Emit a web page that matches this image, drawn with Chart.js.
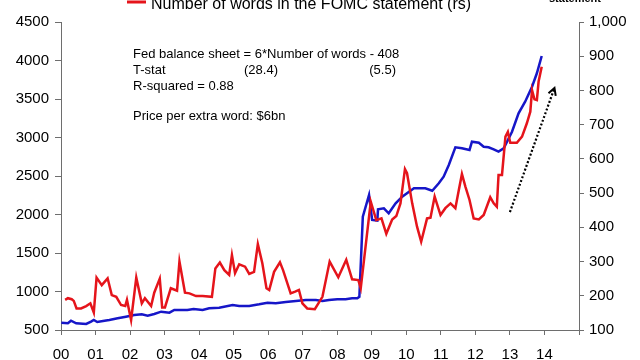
<!DOCTYPE html>
<html>
<head>
<meta charset="utf-8">
<script src="https://cdn.jsdelivr.net/npm/chart.js@4.4.1/dist/chart.umd.min.js"></script>
<style>
  html, body { margin: 0; padding: 0; background: #fff; }
  #wrap { width: 640px; height: 360px; overflow: hidden; }
</style>
</head>
<body>
<div id="wrap"><canvas id="fomcChart" width="640" height="360"></canvas></div>
<script>
// Number of words in the FOMC statement (right scale)
var wordsYears = [2000.12, 2000.20, 2000.31, 2000.37, 2000.45, 2000.58, 2000.73, 2000.85, 2000.95,
  2001.03, 2001.18, 2001.35, 2001.47, 2001.60, 2001.74, 2001.86, 2001.91,
  2002.03, 2002.18, 2002.34, 2002.43, 2002.61, 2002.70, 2002.86, 2002.93,
  2003.01, 2003.18, 2003.36, 2003.43, 2003.59, 2003.72, 2003.91,
  2004.10, 2004.37, 2004.47, 2004.60, 2004.73, 2004.87, 2004.95,
  2005.04, 2005.16, 2005.33, 2005.45, 2005.59, 2005.70, 2005.83, 2005.95,
  2006.03, 2006.17, 2006.34, 2006.43, 2006.65, 2006.78, 2006.89, 2006.99,
  2007.13, 2007.35, 2007.57, 2007.78,
  2008.03, 2008.26, 2008.43, 2008.61, 2008.68, 2008.97,
  2009.13, 2009.28, 2009.42, 2009.59, 2009.71, 2009.83, 2009.96,
  2010.02, 2010.17, 2010.31, 2010.43, 2010.60, 2010.70, 2010.82, 2010.99,
  2011.13, 2011.28, 2011.42, 2011.52, 2011.61, 2011.71, 2011.83, 2011.95,
  2012.10, 2012.24, 2012.43, 2012.53, 2012.62, 2012.67, 2012.77, 2012.87, 2012.94,
  2013.01, 2013.20, 2013.35, 2013.49, 2013.59, 2013.64, 2013.71, 2013.78, 2013.83, 2013.92];
var wordsCount = [188, 193, 190, 185, 163, 163, 170, 178, 151,
  253, 231, 251, 202, 197, 173, 170, 188,
  129, 253, 178, 193, 170, 209, 250, 166,
  166, 222, 215, 300, 209, 207, 199,
  199, 197, 280, 297, 275, 261, 319,
  266, 292, 285, 264, 270, 351, 295, 222,
  217, 270, 298, 275, 207, 212, 217, 178,
  163, 161, 197, 300,
  254, 305, 248, 246, 222, 475,
  421, 426, 381, 423, 433, 470, 570,
  558, 470, 402, 358, 426, 428, 490, 436,
  456, 470, 456, 509, 556, 519, 480, 426,
  423, 436, 488, 470, 460, 553, 553, 665, 679,
  647, 647, 665, 704, 738, 801, 774, 772, 826, 869];

// Fed balance sheet, $bn (left scale)
var balanceYears = [2000.01, 2000.20, 2000.29, 2000.44, 2000.73, 2000.87, 2000.95,
  2001.05, 2001.26, 2001.40, 2001.64, 2001.88,
  2002.12, 2002.34, 2002.51, 2002.70, 2002.90,
  2003.14, 2003.28, 2003.66, 2003.84,
  2004.10, 2004.29, 2004.58, 2004.97,
  2005.16, 2005.45, 2005.74, 2005.98,
  2006.22, 2006.51, 2006.80,
  2007.09, 2007.38, 2007.57, 2007.76,
  2008.00, 2008.24, 2008.43, 2008.58, 2008.64, 2008.74, 2008.92,
  2009.01, 2009.16, 2009.18, 2009.35, 2009.49, 2009.69, 2009.88,
  2010.22, 2010.55, 2010.75, 2010.94,
  2011.08, 2011.23, 2011.42, 2011.61, 2011.83, 2011.90,
  2012.10, 2012.24, 2012.38, 2012.53, 2012.67, 2012.82,
  2013.06, 2013.25, 2013.44, 2013.64, 2013.78, 2013.92];
var balanceBn = [595, 587, 621, 587, 578, 608, 630,
  604, 621, 630, 652, 673,
  695, 704, 686, 708, 738,
  725, 760, 760, 773,
  760, 782, 790, 825,
  812, 812, 834, 855,
  847, 864, 877,
  890, 890, 877, 890,
  899, 899, 912, 912, 932, 1971, 2253,
  1929, 1920, 2068, 2081, 2016, 2145, 2231,
  2340, 2340, 2309, 2405,
  2491, 2643, 2873, 2860, 2838, 2945,
  2932, 2880, 2873, 2847, 2816, 2860,
  3075, 3314, 3465, 3660, 3834, 4058];

// dotted trend arrow (left scale)
var arrowYears = [2013.0, 2014.29];
var arrowLevels = [2032, 3643];

var xTickLabels = ['00', '01', '02', '03', '04', '05', '06', '07', '08', '09', '10', '11', '12', '13', '14'];
var leftTicks = [500, 1000, 1500, 2000, 2500, 3000, 3500, 4000, 4500];
var rightTicks = [100, 200, 300, 400, 500, 600, 700, 800, 900, 1000];

var notes = [
  'Fed balance sheet = 6*Number of words - 408',
  'T-stat',
  'R-squared = 0.88',
  'Price per extra word: $6bn'
];
var tstats = ['(28.4)', '(5.5)'];

var FONT = "'Liberation Sans', Arial, sans-serif";
var RED = '#e5141b';
var BLUE = '#1616c8';
var AXIS = '#6e6e6e';

function toPoints(xs, ys) {
  return xs.map(function (x, i) { return { x: x, y: ys[i] }; });
}

var annotations = {
  id: 'annotations',
  afterDatasetsDraw: function (chart) {
    var ctx = chart.ctx;
    // arrow head
    var meta = chart.getDatasetMeta(2);
    var p0 = meta.data[0], p1 = meta.data[1];
    var ang = Math.atan2(p1.y - p0.y, p1.x - p0.x);
    ctx.save();
    ctx.strokeStyle = '#000';
    ctx.lineWidth = 2;
    ctx.beginPath();
    ctx.moveTo(p1.x - 8 * Math.cos(ang - 0.5), p1.y - 8 * Math.sin(ang - 0.5));
    ctx.lineTo(p1.x, p1.y);
    ctx.lineTo(p1.x - 8 * Math.cos(ang + 0.5), p1.y - 8 * Math.sin(ang + 0.5));
    ctx.stroke();
    ctx.restore();
  },
  afterDraw: function (chart) {
    var ctx = chart.ctx;
    ctx.save();
    ctx.fillStyle = '#000';
    ctx.font = '13px ' + FONT;
    ctx.textBaseline = 'middle';
    ctx.textAlign = 'left';
    ctx.fillText(notes[0], 133, 54);
    ctx.fillText(notes[1], 133, 70);
    ctx.fillText(tstats[0], 244, 70);
    ctx.textAlign = 'right';
    ctx.fillText(tstats[1], 396, 70);
    ctx.textAlign = 'left';
    ctx.fillText(notes[2], 133, 86);
    ctx.fillText(notes[3], 133, 116);

    // legend, cut off at the top edge as in the source
    ctx.strokeStyle = RED;
    ctx.lineWidth = 3;
    ctx.beginPath();
    ctx.moveTo(127, 2);
    ctx.lineTo(146, 2);
    ctx.stroke();
    ctx.font = '16px ' + FONT;
    ctx.textBaseline = 'alphabetic';
    ctx.fillText('Number of words in the FOMC statement (rs)', 151, 9);
    ctx.font = 'bold 11px ' + FONT;
    ctx.fillText('statement', 549, 2);
    ctx.restore();
  }
};

var chart = new Chart(document.getElementById('fomcChart'), {
  type: 'line',
  data: {
    datasets: [{
      label: 'Number of words in the FOMC statement (rs)',
      data: toPoints(wordsYears, wordsCount),
      yAxisID: 'yWords',
      borderColor: RED,
      borderWidth: 2.5,
      pointRadius: 0,
      tension: 0
    }, {
      label: 'Fed balance sheet',
      data: toPoints(balanceYears, balanceBn),
      yAxisID: 'yBalance',
      borderColor: BLUE,
      borderWidth: 2.5,
      pointRadius: 0,
      tension: 0
    }, {
      label: 'trend',
      data: toPoints(arrowYears, arrowLevels),
      yAxisID: 'yBalance',
      borderColor: '#000',
      borderWidth: 2.2,
      borderDash: [2, 2],
      pointRadius: 0,
      tension: 0
    }]
  },
  options: {
    responsive: false,
    animation: false,
    layout: { padding: { top: 22, left: 0, right: 0, bottom: 0 } },
    plugins: {
      legend: { display: false },
      tooltip: { enabled: false }
    },
    scales: {
      x: {
        type: 'linear',
        min: 2000,
        max: 2015,
        afterBuildTicks: function (scale) {
          scale.ticks = [];
          for (var i = 0; i <= xTickLabels.length; i++) scale.ticks.push({ value: 2000 + i });
        },
        afterFit: function (scale) { scale.height = 30; },
        ticks: {
          autoSkip: false,
          maxRotation: 0,
          padding: 11,
          color: '#000',
          font: { family: FONT, size: 15 },
          callback: function (v) {
            var i = Math.round(v - 2000);
            return xTickLabels[i] || '';
          }
        },
        grid: { drawOnChartArea: false, tickLength: 5, color: AXIS },
        border: { color: AXIS, width: 1 }
      },
      yBalance: {
        position: 'left',
        min: 500,
        max: 4500,
        afterBuildTicks: function (scale) {
          scale.ticks = leftTicks.map(function (v) { return { value: v }; });
        },
        afterFit: function (scale) { scale.width = 61; },
        ticks: {
          padding: 6,
          color: '#000',
          font: { family: FONT, size: 15 },
          callback: function (v) { return String(v); }
        },
        grid: { drawOnChartArea: false, tickLength: 6, color: AXIS },
        border: { color: AXIS, width: 1 }
      },
      yWords: {
        position: 'right',
        min: 100,
        max: 1000,
        afterBuildTicks: function (scale) {
          scale.ticks = rightTicks.map(function (v) { return { value: v }; });
        },
        afterFit: function (scale) { scale.width = 61; },
        ticks: {
          padding: 5,
          color: '#000',
          font: { family: FONT, size: 15 },
          callback: function (v) { return v.toLocaleString('en-US'); }
        },
        grid: { drawOnChartArea: false, tickLength: 5, color: AXIS },
        border: { color: AXIS, width: 1 }
      }
    }
  },
  plugins: [annotations]
});
</script>
</body>
</html>
